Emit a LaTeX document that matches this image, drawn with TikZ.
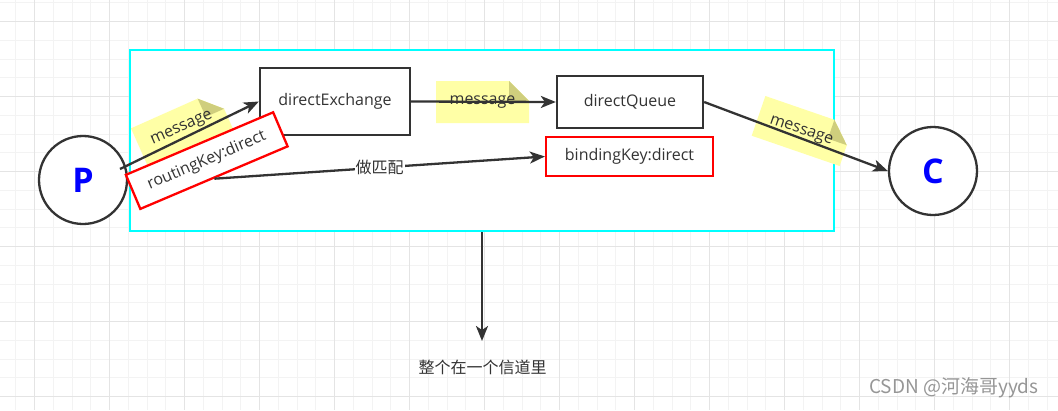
\documentclass[tikz,border=0pt]{standalone}
\usepackage{fontspec}
\setmainfont{Open Sans}
\newfontfamily\cjk{Noto Sans CJK SC}
\usetikzlibrary{arrows.meta,calc}
\definecolor{ink}{HTML}{333333}
\definecolor{chancol}{RGB}{0,255,255}
\definecolor{notefill}{RGB}{255,255,166}
\definecolor{notefold}{RGB}{207,206,125}
\definecolor{gridminor}{RGB}{243,243,243}
\definecolor{gridmajor}{RGB}{228,228,228}
\definecolor{wmcol}{RGB}{150,150,150}
\newcommand\notebg[3]{%
  \begin{scope}[shift={(#1,#2)},rotate=#3]
    \fill[notefill] (-46.5,-21) -- (26.5,-21) -- (46.5,-1) -- (46.5,21) -- (-46.5,21) -- cycle;
    \fill[notefold] (26.5,-21) -- (46.5,-1) -- (26.5,-1) -- cycle;
  \end{scope}}
\begin{document}
\begin{tikzpicture}[x=1pt,y=-1pt,font=\fontsize{16}{19}\selectfont,
  box/.style={draw=ink,line width=2.3pt,fill=white,inner sep=0pt,text=ink},
  redbox/.style={draw=red,line width=2.3pt,fill=white,inner sep=0pt,text=ink},
  circ/.style={circle,draw=ink,line width=2.3pt,fill=white,minimum size=88pt,inner sep=0pt,
    text=blue,font=\fontsize{34}{34}\selectfont\bfseries},
  edge/.style={draw=ink,line width=2.3pt,-{Stealth[length=15pt,width=12pt,inset=4pt]}},
  notetext/.style={text=ink,inner sep=0pt},
  cjktext/.style={text=ink,font=\fontsize{16}{19}\selectfont\cjk}]
\useasboundingbox (0,0) rectangle (1058,410);
\fill[white] (0,0) rectangle (1058,410);
% grid
\foreach \i in {0,...,55} \draw[gridminor,line width=1pt] ({15.75+18.75*\i},0) -- ({15.75+18.75*\i},410);
\foreach \j in {0,...,21} \draw[gridminor,line width=1pt] (0,{2.95+18.75*\j}) -- (1058,{2.95+18.75*\j});
\foreach \i in {1,5,...,53} \draw[gridmajor,line width=1pt] ({15.75+18.75*\i},0) -- ({15.75+18.75*\i},410);
\foreach \j in {1,5,...,21} \draw[gridmajor,line width=1pt] (0,{2.95+18.75*\j}) -- (1058,{2.95+18.75*\j});
% channel container
\node[draw=chancol,line width=2.3pt,fill=white,minimum width=704pt,minimum height=181pt,inner sep=0pt] (chan) at (482,140.5) {};
% notes
\notebg{182}{128.6}{24}
\node[notetext,rotate=24] (m1) at (182,128.6) {message};
\notebg{482.5}{102}{0}
\node[notetext] (m2) at (482.5,102) {message};
\notebg{802.5}{131}{-19}
\node[notetext,rotate=-19] (m3) at (801,131.5) {message};
% nodes
\node[circ] (P) at (83,180) {P};
\node[circ] (C) at (933,171) {C};
\node[box,minimum width=150pt,minimum height=67pt] (dE) at (335,101.5) {directExchange};
\node[box,minimum width=146pt,minimum height=52pt] (dQ) at (630,102) {directQueue};
\node[redbox,minimum width=167pt,minimum height=39pt] (bk) at (629.5,156.5) {bindingKey:direct};
\node[redbox,minimum width=160pt,minimum height=37pt,rotate=23] (rk) at (206.75,160.6) {routingKey:direct};
% edges
\coordinate (pstart) at ($(P.center)+(37,-11)$);
\draw[edge] (pstart) -- (dE.west);
\draw[edge] (dE.east) -- (dQ.west);
\draw[edge] (dQ.east) -- (C.west);
\draw[edge] (rk.south) -- node[cjktext,fill=white,inner sep=1pt] (match) {做匹配} (bk.west);
\coordinate (downend) at (482,341);
\draw[edge] (chan.south) -- (downend);
% labels
\node[cjktext] (chanlabel) at (482.5,367) {整个在一个信道里};
\node[text=wmcol,font=\fontsize{19}{22}\selectfont\cjk,anchor=west,inner sep=0pt] (wm) at (869,388) {CSDN @河海哥yyds};
\end{tikzpicture}
\end{document}
